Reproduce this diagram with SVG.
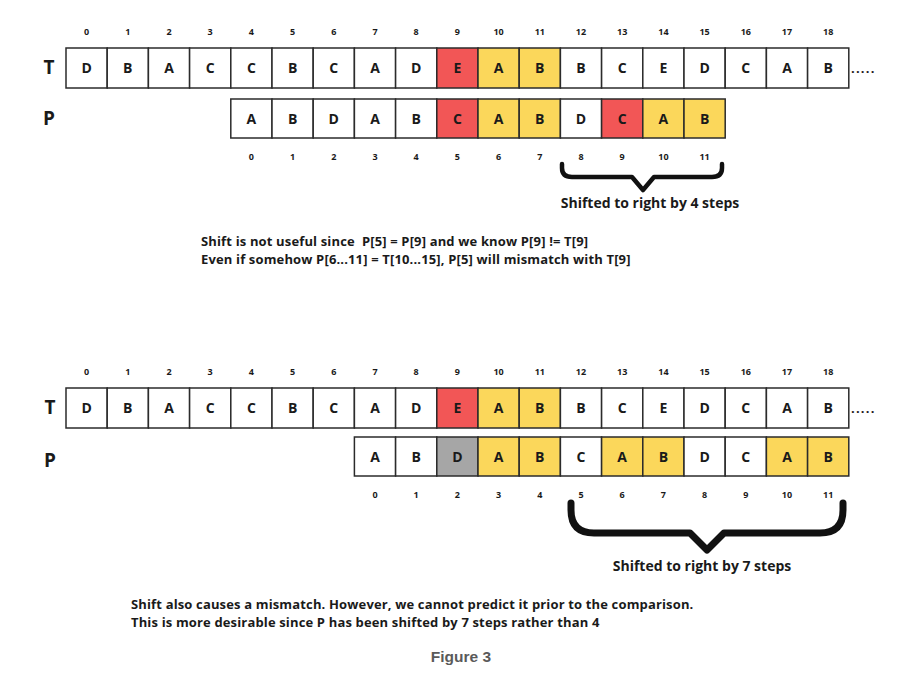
<svg xmlns="http://www.w3.org/2000/svg" width="914" height="693" viewBox="0 0 914 693">
<style>
.c{stroke:#2b2b2b;stroke-width:1.5;fill:#fff}
.r{fill:#f25656}
.y{fill:#fbd75b}
.g{fill:#a6a6a6}
.l{font-family:"Open Sans","DejaVu Sans",sans-serif;font-weight:700;font-size:14px;fill:#1a1a1a;text-anchor:middle}
.i{font-family:"Open Sans","DejaVu Sans",sans-serif;font-weight:700;font-size:9px;fill:#1a1a1a;text-anchor:middle}
.h{font-family:"Open Sans","DejaVu Sans",sans-serif;font-weight:700;font-size:19px;fill:#1a1a1a;text-anchor:middle}
.t{font-family:"Open Sans","DejaVu Sans",sans-serif;font-weight:700;font-size:13px;letter-spacing:0.15px;fill:#1a1a1a;white-space:pre}
.s{font-family:"Open Sans","DejaVu Sans",sans-serif;font-weight:700;font-size:14px;fill:#1a1a1a;text-anchor:middle}
.d{font-family:"Open Sans","DejaVu Sans",sans-serif;font-weight:700;font-size:13px;letter-spacing:1.2px;fill:#1a1a1a}
.br{fill:none;stroke:#111;stroke-linecap:round;stroke-linejoin:round}
</style>

<!-- ===== Top section ===== -->
<g id="top-index-T">
<text class="i" x="86.6" y="35">0</text><text class="i" x="127.8" y="35">1</text><text class="i" x="169" y="35">2</text><text class="i" x="210.2" y="35">3</text><text class="i" x="251.4" y="35">4</text><text class="i" x="292.6" y="35">5</text><text class="i" x="333.8" y="35">6</text><text class="i" x="375" y="35">7</text><text class="i" x="416.2" y="35">8</text><text class="i" x="457.4" y="35">9</text><text class="i" x="498.6" y="35">10</text><text class="i" x="539.8" y="35">11</text><text class="i" x="581" y="35">12</text><text class="i" x="622.2" y="35">13</text><text class="i" x="663.4" y="35">14</text><text class="i" x="704.6" y="35">15</text><text class="i" x="745.8" y="35">16</text><text class="i" x="787" y="35">17</text><text class="i" x="828.2" y="35">18</text>
</g>
<g id="top-label-T"><text class="h" x="49" y="74">T</text></g>
<g id="top-label-P"><text class="h" x="49" y="125">P</text></g>

<g id="top-T">
<g id="tT0"><rect class="c" x="66" y="48" width="41.2" height="40"/><text class="l" x="86.6" y="73">D</text></g>
<g id="tT1"><rect class="c" x="107.2" y="48" width="41.2" height="40"/><text class="l" x="127.8" y="73">B</text></g>
<g id="tT2"><rect class="c" x="148.4" y="48" width="41.2" height="40"/><text class="l" x="169" y="73">A</text></g>
<g id="tT3"><rect class="c" x="189.6" y="48" width="41.2" height="40"/><text class="l" x="210.2" y="73">C</text></g>
<g id="tT4"><rect class="c" x="230.8" y="48" width="41.2" height="40"/><text class="l" x="251.4" y="73">C</text></g>
<g id="tT5"><rect class="c" x="272" y="48" width="41.2" height="40"/><text class="l" x="292.6" y="73">B</text></g>
<g id="tT6"><rect class="c" x="313.2" y="48" width="41.2" height="40"/><text class="l" x="333.8" y="73">C</text></g>
<g id="tT7"><rect class="c" x="354.4" y="48" width="41.2" height="40"/><text class="l" x="375" y="73">A</text></g>
<g id="tT8"><rect class="c" x="395.6" y="48" width="41.2" height="40"/><text class="l" x="416.2" y="73">D</text></g>
<g id="tT9"><rect class="c r" x="436.8" y="48" width="41.2" height="40"/><text class="l" x="457.4" y="73">E</text></g>
<g id="tT10"><rect class="c y" x="478" y="48" width="41.2" height="40"/><text class="l" x="498.6" y="73">A</text></g>
<g id="tT11"><rect class="c y" x="519.2" y="48" width="41.2" height="40"/><text class="l" x="539.8" y="73">B</text></g>
<g id="tT12"><rect class="c" x="560.4" y="48" width="41.2" height="40"/><text class="l" x="581" y="73">B</text></g>
<g id="tT13"><rect class="c" x="601.6" y="48" width="41.2" height="40"/><text class="l" x="622.2" y="73">C</text></g>
<g id="tT14"><rect class="c" x="642.8" y="48" width="41.2" height="40"/><text class="l" x="663.4" y="73">E</text></g>
<g id="tT15"><rect class="c" x="684" y="48" width="41.2" height="40"/><text class="l" x="704.6" y="73">D</text></g>
<g id="tT16"><rect class="c" x="725.2" y="48" width="41.2" height="40"/><text class="l" x="745.8" y="73">C</text></g>
<g id="tT17"><rect class="c" x="766.4" y="48" width="41.2" height="40"/><text class="l" x="787" y="73">A</text></g>
<g id="tT18"><rect class="c" x="807.6" y="48" width="41.2" height="40"/><text class="l" x="828.2" y="73">B</text></g>
<text class="d" x="851" y="73">.....</text>
</g>

<g id="top-P">
<g id="tP0"><rect class="c" x="230.8" y="99" width="41.2" height="39"/><text class="l" x="251.4" y="123.5">A</text></g>
<g id="tP1"><rect class="c" x="272" y="99" width="41.2" height="39"/><text class="l" x="292.6" y="123.5">B</text></g>
<g id="tP2"><rect class="c" x="313.2" y="99" width="41.2" height="39"/><text class="l" x="333.8" y="123.5">D</text></g>
<g id="tP3"><rect class="c" x="354.4" y="99" width="41.2" height="39"/><text class="l" x="375" y="123.5">A</text></g>
<g id="tP4"><rect class="c" x="395.6" y="99" width="41.2" height="39"/><text class="l" x="416.2" y="123.5">B</text></g>
<g id="tP5"><rect class="c r" x="436.8" y="99" width="41.2" height="39"/><text class="l" x="457.4" y="123.5">C</text></g>
<g id="tP6"><rect class="c y" x="478" y="99" width="41.2" height="39"/><text class="l" x="498.6" y="123.5">A</text></g>
<g id="tP7"><rect class="c y" x="519.2" y="99" width="41.2" height="39"/><text class="l" x="539.8" y="123.5">B</text></g>
<g id="tP8"><rect class="c" x="560.4" y="99" width="41.2" height="39"/><text class="l" x="581" y="123.5">D</text></g>
<g id="tP9"><rect class="c r" x="601.6" y="99" width="41.2" height="39"/><text class="l" x="622.2" y="123.5">C</text></g>
<g id="tP10"><rect class="c y" x="642.8" y="99" width="41.2" height="39"/><text class="l" x="663.4" y="123.5">A</text></g>
<g id="tP11"><rect class="c y" x="684" y="99" width="41.2" height="39"/><text class="l" x="704.6" y="123.5">B</text></g>
</g>
<g id="top-index-P">
<text class="i" x="251.4" y="160">0</text><text class="i" x="292.6" y="160">1</text><text class="i" x="333.8" y="160">2</text><text class="i" x="375" y="160">3</text><text class="i" x="416.2" y="160">4</text><text class="i" x="457.4" y="160">5</text><text class="i" x="498.6" y="160">6</text><text class="i" x="539.8" y="160">7</text><text class="i" x="581" y="160">8</text><text class="i" x="622.2" y="160">9</text><text class="i" x="663.4" y="160">10</text><text class="i" x="704.6" y="160">11</text>
</g>

<g id="connectors">
<path class="br" stroke-width="4.5" d="M562,164 L562,168 Q562,177 572,177 L632,177 L643,190 L654,177 L712,177 Q722,177 722,168 L722,164"/>
<path class="br" stroke-width="7" d="M571,503 L571,510 Q571,533 594,533 L690,533 L707,550 L724,533 L820,533 Q843,533 843,510 L843,503"/>
</g>

<g id="top-brace-label"><text class="s" x="650" y="208">Shifted to right by 4 steps</text></g>
<g id="top-note">
<text class="t" x="201" y="246">Shift is not useful since  P[5] = P[9] and we know P[9] != T[9]</text>
<text class="t" x="201" y="264">Even if somehow P[6...11] = T[10...15], P[5] will mismatch with T[9]</text>
</g>

<!-- ===== Bottom section ===== -->
<g id="bot-index-T">
<text class="i" x="86.6" y="375">0</text><text class="i" x="127.8" y="375">1</text><text class="i" x="169" y="375">2</text><text class="i" x="210.2" y="375">3</text><text class="i" x="251.4" y="375">4</text><text class="i" x="292.6" y="375">5</text><text class="i" x="333.8" y="375">6</text><text class="i" x="375" y="375">7</text><text class="i" x="416.2" y="375">8</text><text class="i" x="457.4" y="375">9</text><text class="i" x="498.6" y="375">10</text><text class="i" x="539.8" y="375">11</text><text class="i" x="581" y="375">12</text><text class="i" x="622.2" y="375">13</text><text class="i" x="663.4" y="375">14</text><text class="i" x="704.6" y="375">15</text><text class="i" x="745.8" y="375">16</text><text class="i" x="787" y="375">17</text><text class="i" x="828.2" y="375">18</text>
</g>
<g id="bot-label-T"><text class="h" x="50" y="414">T</text></g>
<g id="bot-label-P"><text class="h" x="50" y="467">P</text></g>

<g id="bot-T">
<g id="bT0"><rect class="c" x="66" y="388" width="41.2" height="40"/><text class="l" x="86.6" y="413">D</text></g>
<g id="bT1"><rect class="c" x="107.2" y="388" width="41.2" height="40"/><text class="l" x="127.8" y="413">B</text></g>
<g id="bT2"><rect class="c" x="148.4" y="388" width="41.2" height="40"/><text class="l" x="169" y="413">A</text></g>
<g id="bT3"><rect class="c" x="189.6" y="388" width="41.2" height="40"/><text class="l" x="210.2" y="413">C</text></g>
<g id="bT4"><rect class="c" x="230.8" y="388" width="41.2" height="40"/><text class="l" x="251.4" y="413">C</text></g>
<g id="bT5"><rect class="c" x="272" y="388" width="41.2" height="40"/><text class="l" x="292.6" y="413">B</text></g>
<g id="bT6"><rect class="c" x="313.2" y="388" width="41.2" height="40"/><text class="l" x="333.8" y="413">C</text></g>
<g id="bT7"><rect class="c" x="354.4" y="388" width="41.2" height="40"/><text class="l" x="375" y="413">A</text></g>
<g id="bT8"><rect class="c" x="395.6" y="388" width="41.2" height="40"/><text class="l" x="416.2" y="413">D</text></g>
<g id="bT9"><rect class="c r" x="436.8" y="388" width="41.2" height="40"/><text class="l" x="457.4" y="413">E</text></g>
<g id="bT10"><rect class="c y" x="478" y="388" width="41.2" height="40"/><text class="l" x="498.6" y="413">A</text></g>
<g id="bT11"><rect class="c y" x="519.2" y="388" width="41.2" height="40"/><text class="l" x="539.8" y="413">B</text></g>
<g id="bT12"><rect class="c" x="560.4" y="388" width="41.2" height="40"/><text class="l" x="581" y="413">B</text></g>
<g id="bT13"><rect class="c" x="601.6" y="388" width="41.2" height="40"/><text class="l" x="622.2" y="413">C</text></g>
<g id="bT14"><rect class="c" x="642.8" y="388" width="41.2" height="40"/><text class="l" x="663.4" y="413">E</text></g>
<g id="bT15"><rect class="c" x="684" y="388" width="41.2" height="40"/><text class="l" x="704.6" y="413">D</text></g>
<g id="bT16"><rect class="c" x="725.2" y="388" width="41.2" height="40"/><text class="l" x="745.8" y="413">C</text></g>
<g id="bT17"><rect class="c" x="766.4" y="388" width="41.2" height="40"/><text class="l" x="787" y="413">A</text></g>
<g id="bT18"><rect class="c" x="807.6" y="388" width="41.2" height="40"/><text class="l" x="828.2" y="413">B</text></g>
<text class="d" x="851" y="413">.....</text>
</g>

<g id="bot-P">
<g id="bP0"><rect class="c" x="354.4" y="437" width="41.2" height="39"/><text class="l" x="375" y="461.5">A</text></g>
<g id="bP1"><rect class="c" x="395.6" y="437" width="41.2" height="39"/><text class="l" x="416.2" y="461.5">B</text></g>
<g id="bP2"><rect class="c g" x="436.8" y="437" width="41.2" height="39"/><text class="l" x="457.4" y="461.5">D</text></g>
<g id="bP3"><rect class="c y" x="478" y="437" width="41.2" height="39"/><text class="l" x="498.6" y="461.5">A</text></g>
<g id="bP4"><rect class="c y" x="519.2" y="437" width="41.2" height="39"/><text class="l" x="539.8" y="461.5">B</text></g>
<g id="bP5"><rect class="c" x="560.4" y="437" width="41.2" height="39"/><text class="l" x="581" y="461.5">C</text></g>
<g id="bP6"><rect class="c y" x="601.6" y="437" width="41.2" height="39"/><text class="l" x="622.2" y="461.5">A</text></g>
<g id="bP7"><rect class="c y" x="642.8" y="437" width="41.2" height="39"/><text class="l" x="663.4" y="461.5">B</text></g>
<g id="bP8"><rect class="c" x="684" y="437" width="41.2" height="39"/><text class="l" x="704.6" y="461.5">D</text></g>
<g id="bP9"><rect class="c" x="725.2" y="437" width="41.2" height="39"/><text class="l" x="745.8" y="461.5">C</text></g>
<g id="bP10"><rect class="c y" x="766.4" y="437" width="41.2" height="39"/><text class="l" x="787" y="461.5">A</text></g>
<g id="bP11"><rect class="c y" x="807.6" y="437" width="41.2" height="39"/><text class="l" x="828.2" y="461.5">B</text></g>
</g>
<g id="bot-index-P">
<text class="i" x="375" y="497.5">0</text><text class="i" x="416.2" y="497.5">1</text><text class="i" x="457.4" y="497.5">2</text><text class="i" x="498.6" y="497.5">3</text><text class="i" x="539.8" y="497.5">4</text><text class="i" x="581" y="497.5">5</text><text class="i" x="622.2" y="497.5">6</text><text class="i" x="663.4" y="497.5">7</text><text class="i" x="704.6" y="497.5">8</text><text class="i" x="745.8" y="497.5">9</text><text class="i" x="787" y="497.5">10</text><text class="i" x="828.2" y="497.5">11</text>
</g>

<g id="bot-brace-label"><text class="s" x="702" y="571">Shifted to right by 7 steps</text></g>
<g id="bot-note">
<text class="t" x="131" y="609">Shift also causes a mismatch. However, we cannot predict it prior to the comparison.</text>
<text class="t" x="131" y="627">This is more desirable since P has been shifted by 7 steps rather than 4</text>
</g>

<g id="caption"><text x="461" y="662" text-anchor="middle" font-family="'Liberation Sans',Arial,sans-serif" font-weight="700" font-size="15.5" fill="#5a5a5a">Figure 3</text></g>
</svg>
